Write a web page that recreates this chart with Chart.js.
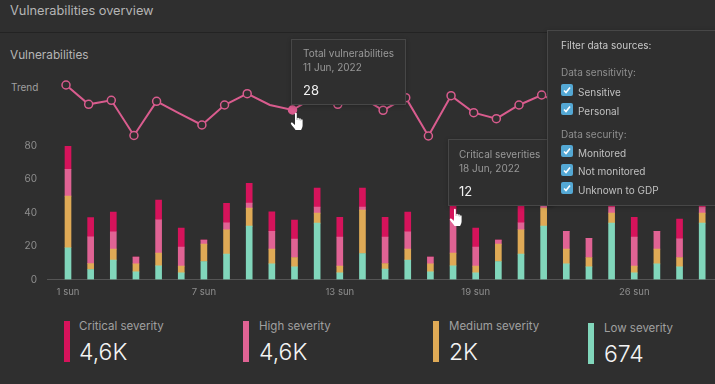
<!DOCTYPE html>
<html>
<head>
<meta charset="utf-8">
<script src="https://cdn.jsdelivr.net/npm/chart.js@4/dist/chart.umd.min.js"></script>
<style>
  html, body { margin: 0; padding: 0; }
  body {
    width: 715px; height: 384px; overflow: hidden; position: relative;
    background: #2f2f2f; font-family: Inter, sans-serif; color: #a5a5a5;
  }
  .txt { position: absolute; white-space: nowrap; }
  #trendBox { position: absolute; left: -2px; top: 70px; width: 715px; height: 80px; }
  #barBox { position: absolute; left: 0; top: 136px; width: 715px; height: 170px; }
  .rule { position: absolute; left: 0; top: 32px; width: 715px; height: 1px; background: #232323; }
  .pop {
    position: absolute; background: #2f2f2f; border: 1px solid #474747;
    box-sizing: border-box; box-shadow: 0 1px 4px rgba(0,0,0,.25);
  }
  .pop .t1 { position: absolute; font-size: 10px; color: #9a9a9a; white-space: nowrap; }
  .pop .t2 { position: absolute; font-size: 10px; color: #979797; white-space: nowrap; }
  .pop .t3 { position: absolute; font-size: 13px; color: #f0f0f0; white-space: nowrap; }
  .head { font-size: 10px; color: #c8c8c8; }
  .sub { font-size: 10px; color: #8f8f8f; }
  .opt { font-size: 10px; color: #c0c0c0; }
  .box {
    position: absolute; width: 12px; height: 12px; background: #54a8d4; border-radius: 2px;
  }
  .box svg { position: absolute; left: 2px; top: 2px; }
  .sw { position: absolute; width: 6px; height: 41px; }
  .kl { font-size: 11.5px; color: #a0a0a0; }
  .kv { font-size: 23px; color: #f4f4f4; font-weight: 300; }
  .hand { position: absolute; }
</style>
</head>
<body>
<div class="txt" style="left:10px;top:3px;font-size:12.8px;color:#b5b5b5">Vulnerabilities overview</div>
<div class="rule"></div>
<div class="txt" style="left:10px;top:48px;font-size:11.8px;color:#b5b5b5">Vulnerabilities</div>
<div class="txt" style="left:11px;top:81px;font-size:10px;color:#a0a0a0">Trend</div>

<div id="trendBox"><canvas id="trendChart"></canvas></div>
<div id="barBox"><canvas id="barChart"></canvas></div>

<div class="sw" style="left:64px;top:321px;background:#d6135b"></div>
<div class="txt kl" style="left:79px;top:319px">Critical severity</div>
<div class="txt kv" style="left:79px;top:338px">4,6K</div>
<div class="sw" style="left:243px;top:321px;background:#e06394"></div>
<div class="txt kl" style="left:259px;top:319px">High severity</div>
<div class="txt kv" style="left:259px;top:338px">4,6K</div>
<div class="sw" style="left:433px;top:321px;background:#dfaa56"></div>
<div class="txt kl" style="left:449px;top:319px">Medium severity</div>
<div class="txt kv" style="left:449px;top:338px">2K</div>
<div class="sw" style="left:588px;top:323px;background:#81d6bb"></div>
<div class="txt kl" style="left:604px;top:321px">Low severity</div>
<div class="txt kv" style="left:604px;top:340px">674</div>

<div class="pop" style="left:291px;top:39px;width:115px;height:66px">
  <div class="t1" style="left:11px;top:7px">Total vulnerabilities</div>
  <div class="t2" style="left:11px;top:21px">11 Jun, 2022</div>
  <div class="t3" style="left:11px;top:42px">28</div>
</div>
<div class="pop" style="left:448px;top:139px;width:105px;height:67px">
  <div class="t1" style="left:10px;top:8px">Critical severities</div>
  <div class="t2" style="left:10px;top:22px">18 Jun, 2022</div>
  <div class="t3" style="left:10px;top:43px">12</div>
</div>

<div class="pop" style="left:547px;top:30px;width:170px;height:176px" id="filters">
  <div class="txt head" style="left:13px;top:8px">Filter data sources:</div>
  <div class="txt sub" style="left:13px;top:35px">Data sensitivity:</div>
  <div class="txt opt" style="left:30px;top:55px">Sensitive</div>
  <div class="txt opt" style="left:30px;top:74px">Personal</div>
  <div class="txt sub" style="left:13px;top:97px">Data security:</div>
  <div class="txt opt" style="left:30px;top:116px">Monitored</div>
  <div class="txt opt" style="left:30px;top:134px">Not monitored</div>
  <div class="txt opt" style="left:30px;top:153px">Unknown to GDP</div>
</div>

<svg class="hand" style="left:290px;top:112px" width="16" height="20" viewBox="0 0 16 20">
  <path d="M5 1.500c0-1 1.800-1 1.800 0V8l.4 0V6.300c0-.9 1.700-.9 1.700 0V8.300h.3V7c0-.9 1.600-.9 1.600 0v1.800h.3V8c0-.9 1.500-.9 1.500 0v5.500c0 2-1 3.200-1.500 4.500H5.500C4.500 16 2 13.800 1 12c-.6-1.100.7-2 1.700-1.100L5 13z" fill="#fff"/>
</svg>
<svg class="hand" style="left:449px;top:208px" width="16" height="20" viewBox="0 0 16 20">
  <path d="M5 1.500c0-1 1.800-1 1.800 0V8l.4 0V6.300c0-.9 1.700-.9 1.700 0V8.300h.3V7c0-.9 1.600-.9 1.600 0v1.800h.3V8c0-.9 1.500-.9 1.500 0v5.500c0 2-1 3.200-1.500 4.500H5.500C4.500 16 2 13.800 1 12c-.6-1.100.7-2 1.700-1.100L5 13z" fill="#fff"/>
</svg>

<script>
// days shown on the x axis, the 30th is cut off by the window
const days = [1,2,3,4,5,6,7,8,9,10,11,12,13,14,15,16,17,18,19,20,21,22,23,24,25,26,27,28,29];
const tickDays = [1, 7, 13, 19, 26];
const yTicks = [0, 20, 40, 60, 80];

const low      = [19,6,11.6,4.6,8.2,4,10.8,15.2,32,9.4,7.6,33.8,4,15.6,6.2,11.6,4.6,8.2,4,10.8,15.2,32,9.4,7.6,33.8,4,9.4,7.6,33.8];
const medium   = [31,3.5,6.6,4.8,7.6,4,10.4,14.6,10.8,8.8,5.6,6,4,26,3.4,6.6,4.8,7.6,4,10.4,14.6,10.8,8.8,5.6,6,4,8.8,5.6,6];
const high     = [16,16,10.4,4,20,11.4,2.4,4.2,3,10.6,11,3.6,17.4,1.8,15.8,10.4,4,20,11.4,2.4,4.2,3,10.6,11.4,3.6,17.4,10.6,11.2,3.6];
const critical = [14,11.6,11.8,0,11.8,11.4,0,11.6,11.8,11.8,11.4,11.4,11.8,11.4,11.8,11.8,0,12,11.4,0,11.6,11.8,0,0,11.4,11.8,0,11.8,11.4];

const trend = [43,31.4,33.8,12.7,33.2,26,19,31,37.8,31,28,36,31.4,36,27.8,35.4,12.4,36.6,26.4,22.8,31,37,31,28,36,31,31,28,36];
// days where the trend line has no ring drawn on it
const trendNoRing = [6, 10];
const hoveredDay = 11;

// filter checkboxes, top offsets inside the panel
const boxTops = [53, 72, 114, 133, 151];

const bg = '#2f2f2f';
const colCritical = '#d6135b', colHigh = '#e06394', colMedium = '#dfaa56', colLow = '#81d6bb';

const filters = document.getElementById('filters');
boxTops.forEach(t => {
  const b = document.createElement('div');
  b.className = 'box';
  b.style.left = '13px';
  b.style.top = t + 'px';
  b.innerHTML = '<svg width="8" height="8" viewBox="0 0 8 8"><path d="M1 4.500 3 6.500 7 1.500" fill="none" stroke="#fff" stroke-width="1.600"/></svg>';
  filters.appendChild(b);
});

// px spacing of the days: 22.65, first day at x=68, plot starts at x=47
const xMin = 1 - (68 - 47) / 22.65;
const xMax = xMin + (715 - 47) / 22.65;

function toPts(arr) {
  return arr.map((v, i) => ({ x: days[i], y: v }));
}

new Chart(document.getElementById('trendChart').getContext('2d'), {
  type: 'line',
  data: {
    datasets: [{
      data: toPts(trend),
      borderColor: '#d95c8e',
      borderWidth: 2,
      tension: 0,
      clip: false,
      pointRadius: c => trendNoRing.includes(c.raw.x) ? 0 : 4,
      pointBorderWidth: 1.5,
      pointBorderColor: '#d95c8e',
      pointBackgroundColor: c => c.raw.x === hoveredDay ? '#d95c8e' : bg
    }]
  },
  options: {
    responsive: true,
    maintainAspectRatio: false,
    animation: false,
    layout: { padding: { left: 47 }, autoPadding: false },
    scales: {
      x: { type: 'linear', display: false, min: xMin, max: xMax },
      y: { display: false, min: 4, max: 52 }
    },
    plugins: { legend: { display: false }, tooltip: { enabled: false } }
  }
});

const series = [
  { label: 'Low severity', data: low, color: colLow },
  { label: 'Medium severity', data: medium, color: colMedium },
  { label: 'High severity', data: high, color: colHigh },
  { label: 'Critical severity', data: critical, color: colCritical }
];

new Chart(document.getElementById('barChart').getContext('2d'), {
  type: 'bar',
  data: {
    datasets: series.map(s => ({
      label: s.label,
      data: toPts(s.data),
      backgroundColor: s.color,
      barThickness: 6
    }))
  },
  options: {
    responsive: true,
    maintainAspectRatio: false,
    animation: false,
    layout: { padding: { top: 10 }, autoPadding: false },
    scales: {
      x: {
        type: 'linear',
        stacked: true,
        offset: false,
        min: xMin,
        max: xMax,
        grid: { display: false, drawTicks: false, offset: false },
        border: { color: '#555555' },
        afterFit: s => { s.height = 26.5; },
        afterBuildTicks: s => { s.ticks = tickDays.map(v => ({ value: v })); },
        ticks: {
          color: '#8e8e8e',
          font: { family: 'Inter', size: 9.5 },
          maxRotation: 0,
          autoSkip: false,
          padding: 7,
          callback: v => v + ' sun'
        }
      },
      y: {
        stacked: true,
        min: 0,
        max: 80,
        grid: { display: false, drawTicks: true, tickLength: 8 },
        border: { display: false },
        afterFit: s => { s.width = 47; },
        afterBuildTicks: s => { s.ticks = yTicks.map(v => ({ value: v })); },
        ticks: {
          color: '#8e8e8e',
          font: { family: 'Inter', size: 10 },
          padding: 2
        }
      }
    },
    plugins: { legend: { display: false }, tooltip: { enabled: false } }
  }
});
</script>
</body>
</html>
